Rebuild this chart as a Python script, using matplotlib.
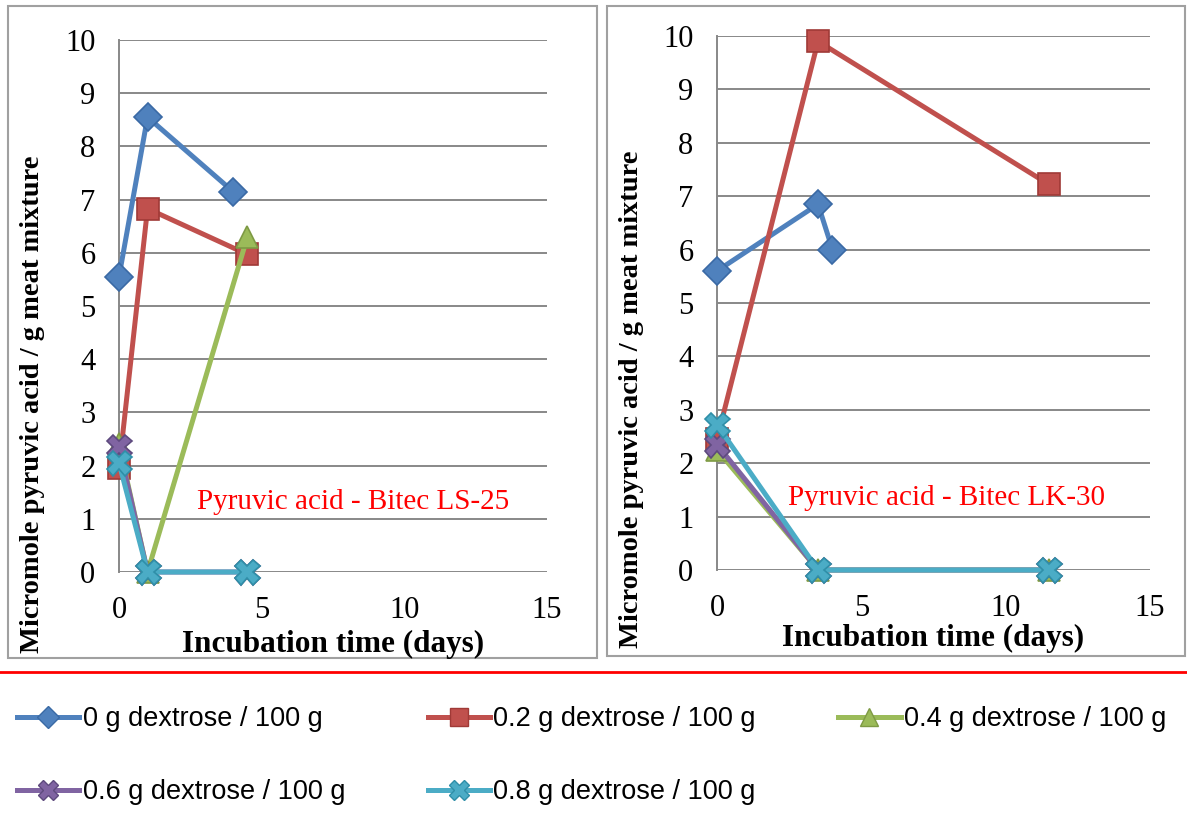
import matplotlib
matplotlib.use("Agg")
import matplotlib.pyplot as plt
from matplotlib.lines import Line2D
from matplotlib.patches import Rectangle

# series labels and styles
labels = ["0 g dextrose / 100 g", "0.2 g dextrose / 100 g", "0.4 g dextrose / 100 g",
          "0.6 g dextrose / 100 g", "0.8 g dextrose / 100 g"]
colors = ["#4F81BD", "#C0504D", "#9BBB59", "#8064A2", "#4BACC6"]
edges = ["#3A6AA5", "#A03A37", "#7E9A44", "#5E4A7E", "#2F8FA8"]
markers = ["D", "s", "^", "X", "X"]
msizes = [14, 16, 16, 18, 18]

# Bitec LS-25 (days, micromole/g)
ls_x = [[0, 1, 4], [0, 1, 4.5], [0, 1, 4.5], [0, 1, 4.5], [0, 1, 4.5]]
ls_y = [[5.55, 8.55, 7.15], [1.95, 6.83, 5.97], [2.4, 0, 6.3], [2.35, 0, 0], [2.05, 0, 0]]

# Bitec LK-30
lk_x = [[0, 3.5, 4], [0, 3.5, 11.5], [0, 3.5, 11.5], [0, 3.5, 11.5], [0, 3.5, 11.5]]
lk_y = [[5.6, 6.85, 6.0], [2.45, 9.9, 7.22], [2.25, 0, 0], [2.35, 0, 0], [2.72, 0, 0]]

serif = "Liberation Serif"
W, H = 1187, 814
fig = plt.figure(figsize=(W / 100, H / 100), dpi=100)

# panel frames
for (x0, y0, x1, y1) in [(8, 6, 597, 658), (607, 6, 1185, 656)]:
    fig.patches.append(Rectangle((x0 / W, 1 - y1 / H), (x1 - x0) / W, (y1 - y0) / H,
                                 transform=fig.transFigure, fill=False,
                                 edgecolor="#A0A0A0", lw=1.5))

def panel(rect, xs, ys, note, ylab_pos, xlab_pos):
    ax = fig.add_axes(rect)
    for i in range(5):
        ax.plot(xs[i], ys[i], color=colors[i], lw=3.6, marker=markers[i],
                ms=msizes[i], mfc=colors[i], mec=edges[i], mew=1.2, zorder=3 + i,
                clip_on=False)
    ax.set_xlim(0, 15)
    ax.set_ylim(0, 10)
    ax.set_xticks([0, 5, 10, 15])
    ax.set_yticks(range(0, 11))
    ax.grid(axis="y", color="#888888", lw=1.4)
    ax.set_axisbelow(True)
    for s in ["top", "right", "bottom"]:
        ax.spines[s].set_visible(False)
    ax.spines["left"].set_color("#888888")
    ax.spines["left"].set_linewidth(1.4)
    ax.tick_params(length=0, labelsize=22)
    ax.tick_params(axis="y", pad=17)
    ax.tick_params(axis="x", pad=17)
    for t in ax.get_xticklabels() + ax.get_yticklabels():
        t.set_fontfamily(serif)
    ax.patch.set_alpha(0)
    ax.text(note[0], note[1], note[2], color="#FF0000", fontsize=21,
            family=serif, ha="center", va="center")
    fig.text(ylab_pos[0] / W, 1 - ylab_pos[1] / H,
             "Micromole pyruvic acid / g meat mixture", rotation=90,
             fontsize=20.5, fontweight="bold", family=serif, ha="center", va="center")
    fig.text(xlab_pos[0] / W, 1 - xlab_pos[1] / H, "Incubation time (days)",
             fontsize=22.5, fontweight="bold", family=serif, ha="center", va="center")
    return ax

panel([119 / W, 1 - 572 / H, 428 / W, 532 / H], ls_x, ls_y,
      (8.2, 1.32, "Pyruvic acid - Bitec LS-25"), (33, 404), (333, 644))
panel([717 / W, 1 - 570 / H, 433 / W, 534 / H], lk_x, lk_y,
      (7.95, 1.35, "Pyruvic acid - Bitec LK-30"), (631, 399), (933, 638))

# red separator
fig.lines.append(Line2D([0, 1], [1 - 672 / H, 1 - 672 / H], transform=fig.transFigure,
                        color="#FF0000", lw=2))

# legend, ordered so columns read row-wise
handles = [Line2D([], [], color=colors[i], lw=3.6, marker=markers[i], ms=msizes[i] * 0.8,
                  mfc=colors[i], mec=edges[i]) for i in range(5)]
order = [0, 3, 1, 4, 2]
fig.legend([handles[i] for i in order], [labels[i] for i in order], ncol=3,
           loc="upper left", bbox_to_anchor=(17 / W, 1 - 706 / H), frameon=False,
           prop={"family": "Liberation Sans", "size": 19.5},
           handlelength=2.3, handletextpad=0.12, columnspacing=3.05, labelspacing=1.75,
           borderaxespad=0, borderpad=0)

fig.savefig("out.png", dpi=100)
